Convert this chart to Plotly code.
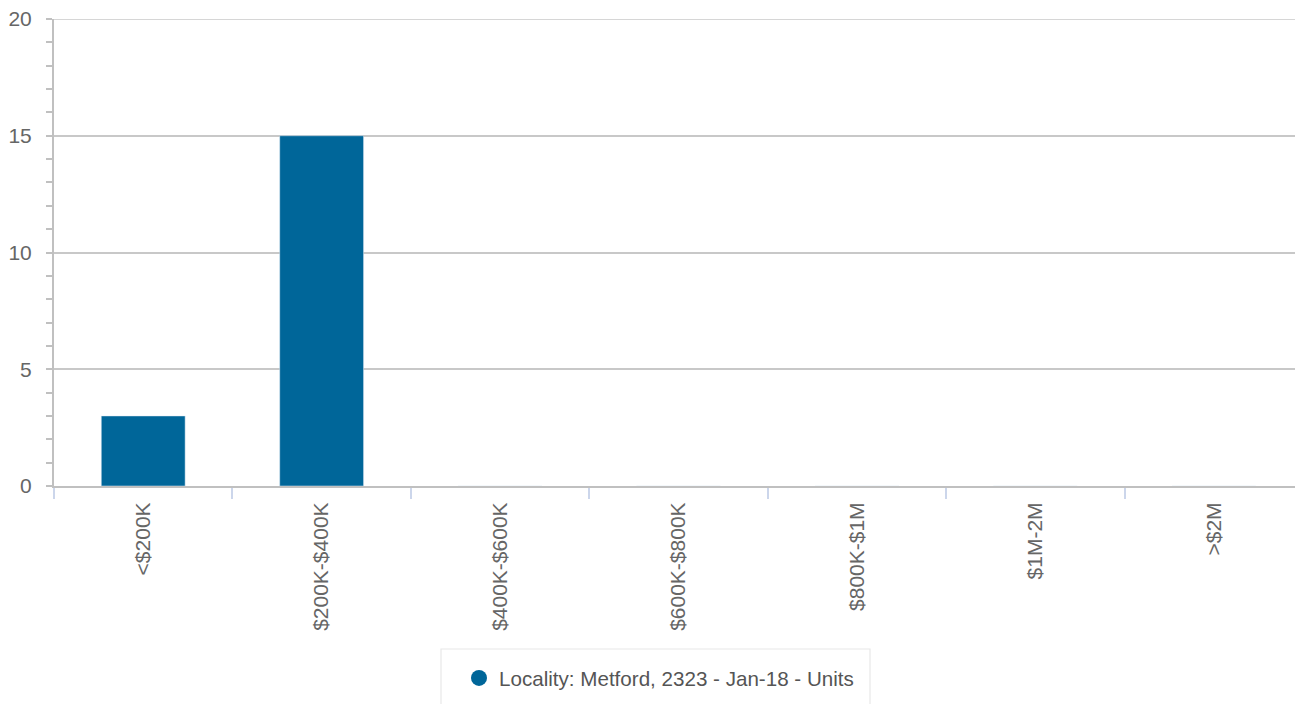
import plotly.graph_objects as go

categories = ["<$200K", "$200K-$400K", "$400K-$600K", "$600K-$800K", "$800K-$1M", "$1M-2M", ">$2M"]
values = [3, 15, 0, 0, 0, 0, 0]
y_ticks = [0, 5, 10, 15, 20]
series_name = "Locality: Metford, 2323 - Jan-18 - Units"
bar_color = "#006699"
grid_color = "#c8c8c8"
font_family = "Liberation Sans, Arial, sans-serif"

W, H = 1303, 704
# page offset (body margin) of 8px
L, T, R, B = 46, 11, 8, 226
PW, PH = W - L - R, H - T - B

fig = go.Figure()
fig.add_trace(go.Bar(x=categories, y=values, marker_color=bar_color, width=0.47,
                     showlegend=False, hoverinfo="x+y"))
fig.add_trace(go.Scatter(x=[None], y=[None], mode="markers", name=series_name,
                         marker=dict(symbol="circle", size=21, color=bar_color)))

fig.update_layout(
    width=W, height=H,
    margin=dict(l=L, r=R, t=T, b=B),
    paper_bgcolor="white", plot_bgcolor="white",
    font=dict(family=font_family, size=20.6, color="#666666"),
    legend=dict(orientation="h", xref="container", yref="container",
                x=451 / W, xanchor="left", y=1 - 670 / H, yanchor="middle",
                borderwidth=0, font=dict(size=20.6, color="#555555"),
                itemwidth=30, bgcolor="rgba(0,0,0,0)"),
    shapes=[
        dict(type="rect", xref="paper", yref="paper",
             x0=(433 - L) / PW, x1=(862 - L) / PW,
             y0=-(710 - (T + PH)) / PH, y1=-(641 - (T + PH)) / PH,
             line=dict(color="#e8e8e8", width=1.2), fillcolor="rgba(0,0,0,0)", layer="below"),
        dict(type="line", xref="paper", yref="y", x0=0, x1=1, y0=y_ticks[-1], y1=y_ticks[-1],
             line=dict(color=grid_color, width=1.5), layer="below"),
    ],
)
fig.update_xaxes(
    type="category", showgrid=False, showline=True, linecolor="#c0c0c0", linewidth=2,
    ticks="outside", tickson="boundaries", ticklen=11, tickcolor="#ccd6eb", tickwidth=2,
    tickangle=-90, ticklabelstandoff=6, tickfont=dict(size=21, color="#666666"),
    range=[-0.5, 6.5], automargin=False,
)
fig.update_yaxes(
    range=[0, 20], tickmode="array", tickvals=y_ticks, ticklabeloverflow="allow",
    showgrid=True, gridcolor=grid_color, gridwidth=1.5,
    showline=True, linecolor="#c0c0c0", linewidth=2, zeroline=False,
    ticks="outside", ticklen=6, tickcolor="#c0c0c0", tickwidth=1.5,
    minor=dict(dtick=1, tick0=0, ticks="outside", ticklen=6, tickcolor="#c0c0c0", tickwidth=1.5, showgrid=False),
    ticklabelstandoff=10, tickfont=dict(size=21, color="#666666"), automargin=False,
)

fig.write_html("out.html")
